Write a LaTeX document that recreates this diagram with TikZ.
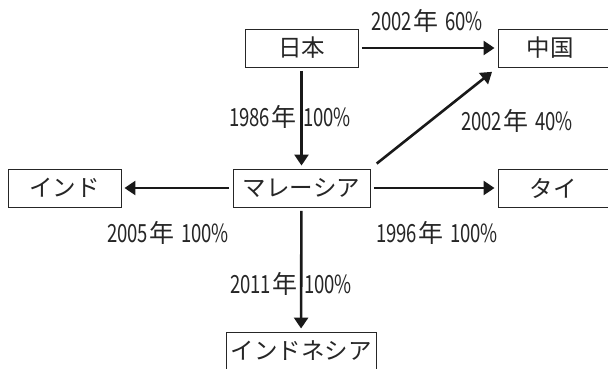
\documentclass[tikz,border=0pt]{standalone}
\usepackage{fontspec}
\setmainfont{Noto Sans CJK JP}
\usetikzlibrary{arrows.meta}
\newcommand\nm[1]{\scalebox{0.74}[1]{#1}}
\newcommand\yl[2]{\nm{#1}\hspace{1pt}年\hspace{7pt}\nm{#2}}
\begin{document}
\begin{tikzpicture}[x=1pt,y=-1pt,
  box/.style={draw=black!85,line width=0.9pt,minimum height=38pt,inner sep=0pt,
    font=\fontsize{23.5}{23.5}\selectfont,text=black!85},
  arr/.style={line width=2.6pt,-{Triangle[length=11pt,width=14pt]},draw=black!90,
    shorten >=3pt,shorten <=3.5pt},
  lbl/.style={font=\fontsize{25}{25}\selectfont,text=black!85,inner sep=0pt}]
\useasboundingbox (0,0) rectangle (608,368);
\node[box,minimum width=113pt] (jp) at (301.5,48) {日本};
\node[box,minimum width=112pt] (cn) at (554,48) {\hspace*{-8pt}中国};
\node[box,minimum width=137pt] (my) at (301.5,188) {マレーシア};
\node[box,minimum width=113pt] (in) at (64.5,188) {インド};
\node[box,minimum width=112pt] (th) at (554,188) {\hspace*{-2pt}タイ};
\node[box,minimum width=150pt] (id) at (301,351) {インドネシア};

\draw[arr] (jp) -- (cn);
\draw[arr] (jp) -- (my);
\draw[arr] (my) -- (in);
\draw[arr] (my) -- (th);
\draw[arr] (my) -- (id);
\draw[arr,shorten <=8pt,shorten >=7pt] (my.north east) -- (cn.south west);

\node[lbl] (l1) at (427,21) {\yl{2002}{60\%}};
\node[lbl] (l2) at (290,117) {\yl{1986}{100\%}};
\node[lbl] (l3) at (517,121) {\yl{2002}{40\%}};
\node[lbl] (l4) at (168,233) {\yl{2005}{100\%}};
\node[lbl] (l5) at (437,233) {\yl{1996}{100\%}};
\node[lbl] (l6) at (291,284) {\yl{2011}{100\%}};
\end{tikzpicture}
\end{document}
